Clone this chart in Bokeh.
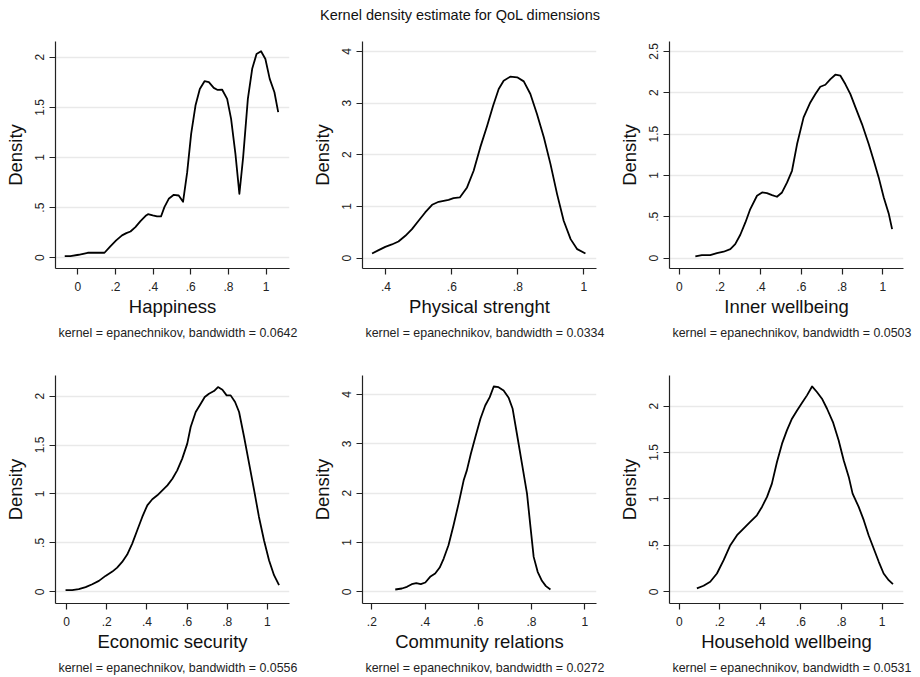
from bokeh.plotting import figure
from bokeh.models import Range1d, FixedTicker, Title, Div
from bokeh.layouts import column, row
from bokeh.embed import file_html
from bokeh.resources import INLINE

FONT = "Liberation Sans"

chart_title = "Kernel density estimate for QoL dimensions"

# ---------------- data ----------------
happ_x = [-0.069, -0.039, 0.005, 0.053, 0.103, 0.142, 0.173, 0.204, 0.235, 0.258, 0.280, 0.306,
          0.333, 0.363, 0.373, 0.398, 0.421, 0.442, 0.460, 0.483, 0.510, 0.536, 0.559, 0.581,
          0.602, 0.625, 0.648, 0.673, 0.696, 0.722, 0.743, 0.766, 0.793, 0.814, 0.837, 0.858,
          0.878, 0.903, 0.926, 0.949, 0.973, 0.996, 1.019, 1.044, 1.064]
happ_y = [0.017, 0.017, 0.030, 0.050, 0.050, 0.050, 0.113, 0.173, 0.223, 0.246, 0.262, 0.306,
          0.365, 0.422, 0.435, 0.422, 0.412, 0.412, 0.505, 0.588, 0.628, 0.621, 0.558, 0.854,
          1.236, 1.518, 1.684, 1.761, 1.751, 1.694, 1.674, 1.678, 1.585, 1.385, 1.037, 0.638,
          1.003, 1.585, 1.884, 2.033, 2.060, 1.983, 1.784, 1.651, 1.452]

phys_x = [0.358, 0.378, 0.398, 0.418, 0.438, 0.459, 0.479, 0.499, 0.519, 0.540, 0.560, 0.575,
          0.590, 0.605, 0.624, 0.646, 0.666, 0.686, 0.707, 0.725, 0.742, 0.757, 0.777, 0.798,
          0.818, 0.838, 0.858, 0.879, 0.899, 0.919, 0.939, 0.960, 0.980, 1.005]
phys_y = [0.090, 0.155, 0.219, 0.265, 0.323, 0.432, 0.561, 0.723, 0.884, 1.032, 1.090, 1.110,
          1.129, 1.161, 1.174, 1.368, 1.690, 2.142, 2.561, 2.948, 3.271, 3.432, 3.510, 3.497,
          3.419, 3.174, 2.787, 2.335, 1.819, 1.239, 0.723, 0.368, 0.174, 0.090]

inner_x = [0.079, 0.111, 0.152, 0.185, 0.218, 0.251, 0.275, 0.300, 0.325, 0.349, 0.382, 0.407,
           0.431, 0.456, 0.480, 0.505, 0.530, 0.554, 0.579, 0.611, 0.644, 0.669, 0.693, 0.718,
           0.743, 0.767, 0.792, 0.816, 0.841, 0.866, 0.898, 0.931, 0.956, 0.980, 1.005, 1.030,
           1.046]
inner_y = [0.020, 0.036, 0.036, 0.060, 0.077, 0.109, 0.169, 0.282, 0.431, 0.593, 0.754, 0.794,
           0.786, 0.762, 0.742, 0.794, 0.915, 1.056, 1.379, 1.702, 1.883, 1.984, 2.073, 2.097,
           2.165, 2.218, 2.206, 2.105, 1.984, 1.823, 1.621, 1.379, 1.177, 0.976, 0.734, 0.532,
           0.351]

econ_x = [-0.005, 0.028, 0.061, 0.095, 0.128, 0.161, 0.194, 0.228, 0.252, 0.277, 0.302, 0.327,
          0.352, 0.377, 0.402, 0.427, 0.452, 0.477, 0.502, 0.527, 0.551, 0.576, 0.601, 0.618,
          0.643, 0.668, 0.688, 0.709, 0.734, 0.754, 0.776, 0.797, 0.817, 0.839, 0.859, 0.884,
          0.909, 0.934, 0.958, 0.983, 1.008, 1.033, 1.058]
econ_y = [0.017, 0.017, 0.027, 0.048, 0.078, 0.112, 0.163, 0.207, 0.248, 0.306, 0.381, 0.493,
          0.629, 0.765, 0.884, 0.946, 0.986, 1.037, 1.088, 1.156, 1.241, 1.361, 1.514, 1.684,
          1.837, 1.922, 1.990, 2.024, 2.051, 2.092, 2.065, 2.007, 2.007, 1.939, 1.837, 1.582,
          1.310, 1.037, 0.765, 0.527, 0.323, 0.170, 0.068]

comm_x = [0.288, 0.313, 0.332, 0.350, 0.367, 0.384, 0.401, 0.419, 0.438, 0.455, 0.470, 0.488,
          0.507, 0.526, 0.545, 0.557, 0.572, 0.589, 0.608, 0.626, 0.643, 0.658, 0.676, 0.695,
          0.714, 0.729, 0.745, 0.764, 0.783, 0.796, 0.808, 0.823, 0.839, 0.854, 0.871]
comm_y = [0.047, 0.067, 0.101, 0.155, 0.175, 0.155, 0.189, 0.304, 0.371, 0.492, 0.675, 0.944,
          1.349, 1.788, 2.260, 2.462, 2.799, 3.137, 3.508, 3.777, 3.946, 4.162, 4.148, 4.081,
          3.933, 3.710, 3.204, 2.597, 1.990, 1.315, 0.708, 0.405, 0.223, 0.115, 0.047]

house_x = [0.087, 0.120, 0.153, 0.186, 0.219, 0.252, 0.285, 0.317, 0.350, 0.383, 0.408, 0.433,
           0.457, 0.482, 0.507, 0.531, 0.556, 0.581, 0.605, 0.630, 0.655, 0.679, 0.704, 0.729,
           0.758, 0.786, 0.811, 0.836, 0.855, 0.885, 0.910, 0.934, 0.959, 0.984, 1.008, 1.033,
           1.054]
house_y = [0.036, 0.065, 0.108, 0.197, 0.341, 0.502, 0.609, 0.681, 0.753, 0.824, 0.914, 1.022,
           1.165, 1.398, 1.595, 1.738, 1.864, 1.953, 2.032, 2.115, 2.211, 2.151, 2.079, 1.971,
           1.828, 1.631, 1.416, 1.237, 1.057, 0.914, 0.771, 0.609, 0.466, 0.323, 0.197, 0.125,
           0.082]

# axis labels / notes
x_labels = ["Happiness", "Physical strenght", "Inner wellbeing",
            "Economic security", "Community relations", "Household wellbeing"]
bandwidths = ["0.0642", "0.0334", "0.0503", "0.0556", "0.0272", "0.0531"]

# tick values and labels
x_ticks_0_1 = [0, 0.2, 0.4, 0.6, 0.8, 1]
x_tick_labels_0_1 = ["0", ".2", ".4", ".6", ".8", "1"]
x_ticks_phys = [0.4, 0.6, 0.8, 1]
x_tick_labels_phys = [".4", ".6", ".8", "1"]
x_ticks_comm = [0.2, 0.4, 0.6, 0.8, 1]
x_tick_labels_comm = [".2", ".4", ".6", ".8", "1"]

y_ticks_2 = [0, 0.5, 1, 1.5, 2]
y_tick_labels_2 = ["0", ".5", "1", "1.5", "2"]
y_ticks_25 = [0, 0.5, 1, 1.5, 2, 2.5]
y_tick_labels_25 = ["0", ".5", "1", "1.5", "2", "2.5"]
y_ticks_4 = [0, 1, 2, 3, 4]
y_tick_labels_4 = ["0", "1", "2", "3", "4"]

# axis limits
x_lims = [(-0.118, 1.124), (0.329, 1.0385), (-0.048, 1.102),
          (-0.055, 1.110), (0.165, 1.044), (-0.048, 1.106)]
y_lims = [(-0.107, 2.157), (-0.200, 4.190), (-0.126, 2.620),
          (-0.119, 2.210), (-0.237, 4.385), (-0.126, 2.329)]


def make_panel(xs, ys, xlim, ylim, xt, xtl, yt, ytl, xlabel, bw,
               left, top, frame_h, bottom, right):
    p = figure(output_backend="svg", toolbar_location=None,
               frame_width=234, frame_height=frame_h,
               min_border_left=left, min_border_right=right,
               min_border_top=top, min_border_bottom=bottom,
               x_range=Range1d(*xlim), y_range=Range1d(*ylim),
               background_fill_color="white", border_fill_color="white")
    p.outline_line_color = None
    p.line(xs, ys, line_color="black", line_width=1.8, line_join="round")

    p.xgrid.visible = False
    p.ygrid.grid_line_color = "#e9e9e9"
    p.ygrid.grid_line_width = 1.5

    p.xaxis.ticker = FixedTicker(ticks=xt, minor_ticks=[])
    p.xaxis.major_label_overrides = {v: s for v, s in zip(xt, xtl)}
    p.yaxis.ticker = FixedTicker(ticks=yt, minor_ticks=[])
    p.yaxis.major_label_overrides = {v: s for v, s in zip(yt, ytl)}
    p.yaxis.major_label_orientation = "vertical"

    for ax in (p.xaxis[0], p.yaxis[0]):
        ax.axis_line_color = "#222222"
        ax.axis_line_width = 1.2
        ax.major_tick_line_color = "#222222"
        ax.major_tick_line_width = 1.2
        ax.major_tick_out = 6
        ax.major_tick_in = 0
        ax.minor_tick_out = 0
        ax.minor_tick_in = 0
        ax.major_label_text_font = FONT
        ax.major_label_text_font_size = "12px"
        ax.major_label_text_color = "#222222"
        ax.axis_label_text_font = FONT
        ax.axis_label_text_font_size = "18.5px"
        ax.axis_label_text_font_style = "normal"
        ax.axis_label_text_color = "#111111"
    p.xaxis.major_label_standoff = 7
    p.xaxis.axis_label_standoff = 2
    p.yaxis.major_label_standoff = 5
    p.yaxis.axis_label_standoff = 7
    p.xaxis.axis_label = xlabel
    p.yaxis.axis_label = "Density"

    note = Title(text="kernel = epanechnikov, bandwidth = " + bw, align="left",
                 offset=3, standoff=8, text_font=FONT,
                 text_font_size="12.4px", text_font_style="normal",
                 text_color="#222222")
    p.add_layout(note, "below")
    return p


series = [(happ_x, happ_y), (phys_x, phys_y), (inner_x, inner_y),
          (econ_x, econ_y), (comm_x, comm_y), (house_x, house_y)]
xticks = [(x_ticks_0_1, x_tick_labels_0_1), (x_ticks_phys, x_tick_labels_phys),
          (x_ticks_0_1, x_tick_labels_0_1), (x_ticks_0_1, x_tick_labels_0_1),
          (x_ticks_comm, x_tick_labels_comm), (x_ticks_0_1, x_tick_labels_0_1)]
yticks = [(y_ticks_2, y_tick_labels_2), (y_ticks_4, y_tick_labels_4),
          (y_ticks_25, y_tick_labels_25), (y_ticks_2, y_tick_labels_2),
          (y_ticks_4, y_tick_labels_4), (y_ticks_2, y_tick_labels_2)]

col_left = [55, 55, 55]
col_right = [18, 18, 12]

panels = []
for i in range(6):
    top_row = i < 3
    c = i % 3
    p = make_panel(series[i][0], series[i][1], x_lims[i], y_lims[i],
                   xticks[i][0], xticks[i][1], yticks[i][0], yticks[i][1],
                   x_labels[i], bandwidths[i],
                   left=col_left[c], right=col_right[c],
                   top=13 if top_row else 32,
                   frame_h=227 if top_row else 228,
                   bottom=72 if top_row else 69)
    panels.append(p)

title_div = Div(text=chart_title, width=915, height=28, margin=(0, 0, 0, 0),
                styles={"font-family": FONT, "font-size": "14.5px", "color": "#111111",
                        "text-align": "center", "width": "920px", "line-height": "31px"})

layout = column(title_div, row(panels[0:3], spacing=0), row(panels[3:6], spacing=0),
                spacing=0)

open("out.html", "w").write(file_html(layout, INLINE))
